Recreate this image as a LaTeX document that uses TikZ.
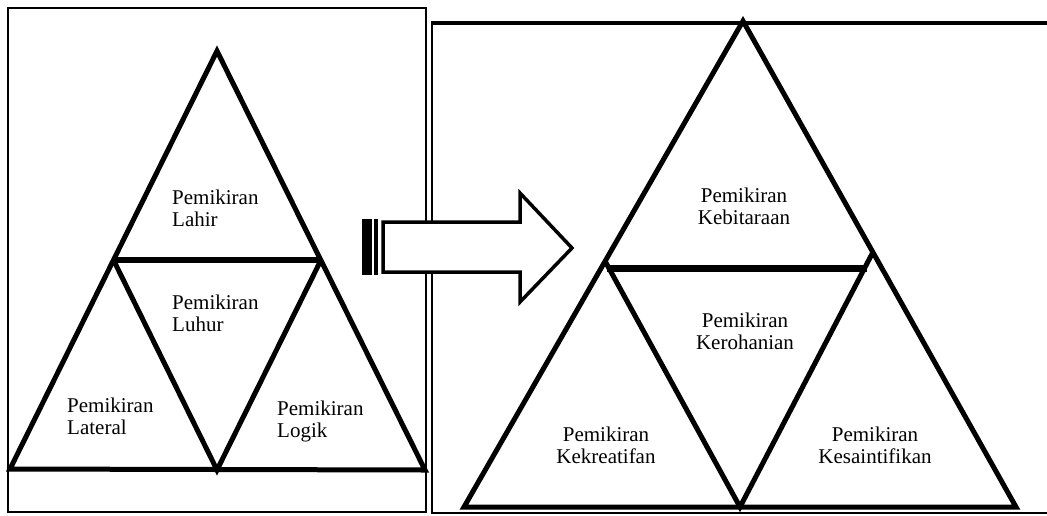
\documentclass[tikz,border=0pt]{standalone}
\usepackage{fontspec}
\setmainfont{Liberation Serif}

\begin{document}
\begin{tikzpicture}[x=1pt, y=-1pt, line join=miter,
      every node/.append style={inner sep=0pt,font=\fontsize{21}{21.5}\selectfont},
      side/.style={line width=5pt},
      frame/.style={line width=2.5pt}]
    \tikzstyle{thought} = [anchor=north west,align=left]
    \tikzstyle{thoughtc} = [anchor=north,align=center]
    \useasboundingbox (0,0) rectangle (1047,515);
    \coordinate (Ltop) at (217,51);   \coordinate (Lbl) at (10,469);    \coordinate (Lbr) at (425,470);
    \coordinate (Lml) at (113.5,260); \coordinate (Lmr) at (321,260);   \coordinate (Lbm) at (217,470);
    \coordinate (Rtop) at (743,21);   \coordinate (Rbl) at (464,507);   \coordinate (Rbr) at (1016,507);
    \coordinate (Rml) at (605,261);   \coordinate (Rmr) at (873,252);   \coordinate (Rbm) at (740,507);
    \draw[frame] (8,8) rectangle (426,512);
    \draw[frame] (1052,513) -- (432,513) -- (432,23);
    \draw[line width=4.5pt] (431,23) -- (1052,23);
    \draw[side] (Ltop) -- (Lbl) -- (Lbr) -- cycle;
    \draw[side] (Lml) -- (Lbm) -- (Lmr);
    \draw[line width=6pt] (Lml) -- (Lmr);
    \draw[side] (Rtop) -- (Rbl) -- (Rbr) -- cycle;
    \draw[side] (Rml) -- (Rbm) -- (Rmr);
    \draw[line width=7pt] (607,268) -- (867,268);
    \draw[line width=3.5pt,fill=white] (383,222) -- (520,222) -- (520,193) -- (572,248)
      -- (520,302) -- (520,272) -- (383,272) -- cycle;
    \fill (362,219) rectangle (372,275);
    \fill (374,219) rectangle (378,275);
    \node (lahir) [thought] at (172,190) {Pemikiran\\Lahir};
    \node (luhur) [thought] at (172,295) {Pemikiran\\Luhur};
    \node (lateral) [thought] at (67,398) {Pemikiran\\Lateral};
    \node (logik) [thought] at (277,401) {Pemikiran\\Logik};
    \node (kebitaraan) [thoughtc] at (744,188) {Pemikiran\\Kebitaraan};
    \node (kerohanian) [thoughtc] at (745,313) {Pemikiran\\Kerohanian};
    \node (kekreatifan) [thoughtc] at (606,427) {Pemikiran\\Kekreatifan};
    \node (kesaintifikan) [thoughtc] at (875,427) {Pemikiran\\Kesaintifikan};
  \end{tikzpicture}
\end{document}
